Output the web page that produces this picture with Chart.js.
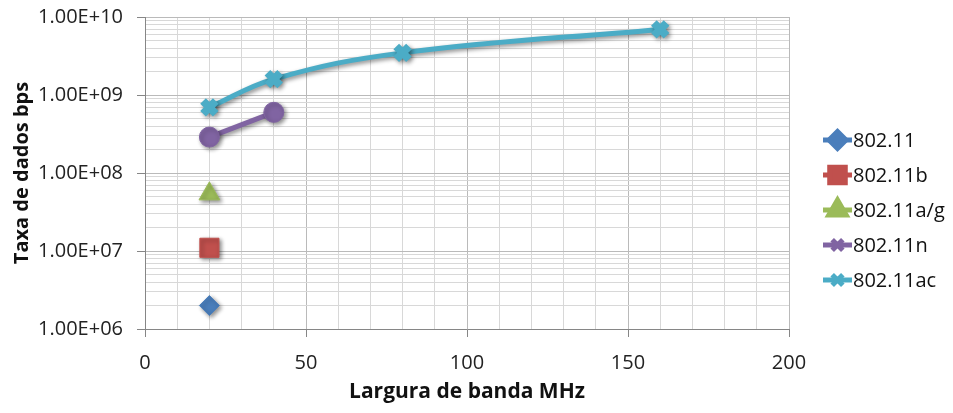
<!DOCTYPE html>
<html>
<head>
<meta charset="utf-8">
<script src="https://cdn.jsdelivr.net/npm/chart.js@4/dist/chart.umd.min.js"></script>
<style>
  html, body { margin: 0; padding: 0; background: #ffffff; }
  canvas { display: block; }
</style>
</head>
<body>
<canvas id="chart" width="953" height="413"></canvas>
<script>
// Wi-Fi standards: channel bandwidth (MHz) vs. maximum data rate (bps)
const seriesNames = ['802.11', '802.11b', '802.11a/g', '802.11n', '802.11ac'];

const bw_80211 = [20];
const rate_80211 = [2e6];

const bw_80211b = [20];
const rate_80211b = [1.1e7];

const bw_80211ag = [20];
const rate_80211ag = [5.4e7];

const bw_80211n = [20, 40];
const rate_80211n = [2.889e8, 6.0e8];

const bw_80211ac = [20, 40, 80, 160];
const rate_80211ac = [6.933e8, 1.6e9, 3.467e9, 6.933e9];

const xAxisLabels = [0, 50, 100, 150, 200];
const yDecades = [1e6, 1e7, 1e8, 1e9, 1e10];

const FONT = '"Open Sans", "Liberation Sans", sans-serif';
const colors = ['#4A7EBB', '#C0504D', '#9BBB59', '#8064A2', '#4BACC6'];

const toPoints = (xs, ys) => xs.map((x, i) => ({ x: x, y: ys[i] }));

const isDecade = v => Math.abs(Math.log10(v) - Math.round(Math.log10(v))) < 1e-9;
const fmtSci = v => {
  const e = Math.round(Math.log10(v));
  const m = v / Math.pow(10, e);
  return m.toFixed(2) + 'E+' + String(e).padStart(2, '0');
};

const datasets = [
  { label: seriesNames[0], data: toPoints(bw_80211, rate_80211), showLine: false,
    pointStyle: 'rectRot', pointRadius: 10, legendRadius: 8.5, legendBorder: 1 },
  { label: seriesNames[1], data: toPoints(bw_80211b, rate_80211b), showLine: false,
    pointStyle: 'rect', pointRadius: 13.5, legendRadius: 11, legendBorder: 1 },
  { label: seriesNames[2], data: toPoints(bw_80211ag, rate_80211ag), showLine: false,
    pointStyle: 'triangle', pointRadius: 12, legendRadius: 10, legendBorder: 1 },
  { label: seriesNames[3], data: toPoints(bw_80211n, rate_80211n), showLine: true, tension: 0,
    pointStyle: 'circle', pointRadius: 10, legendStyle: 'crossRot', legendRadius: 7.5, legendBorder: 7 },
  { label: seriesNames[4], data: toPoints(bw_80211ac, rate_80211ac), showLine: true, tension: 0.4,
    pointStyle: 'crossRot', pointRadius: 9, pointBorderWidth: 8, legendRadius: 7.5, legendBorder: 7 }
].map((d, i) => Object.assign({
  borderColor: colors[i],
  backgroundColor: colors[i],
  pointBackgroundColor: colors[i],
  pointBorderColor: colors[i],
  pointBorderWidth: 1,
  borderWidth: 5,
  pointHoverRadius: d.pointRadius
}, d));

// soft drop shadow under series marks
const shadowPlugin = {
  id: 'seriesShadow',
  beforeDatasetsDraw(chart) {
    const ctx = chart.ctx;
    ctx.save();
    ctx.shadowColor = 'rgba(0,0,0,0.45)';
    ctx.shadowBlur = 4;
    ctx.shadowOffsetX = 2;
    ctx.shadowOffsetY = 2;
  },
  afterDatasetsDraw(chart) {
    chart.ctx.restore();
  }
};

// legend on the right: a short line segment with the series marker, then the name
const lineLegendPlugin = {
  id: 'lineLegend',
  afterDraw(chart) {
    const ctx = chart.ctx;
    const area = chart.chartArea;
    const x0 = area.right + 34, x1 = x0 + 29, tx = x1 + 1;
    const gap = 35;
    const cy = chart.height / 2 + 3.5;
    const n = chart.data.datasets.length;
    chart.data.datasets.forEach((ds, i) => {
      const y = cy + (i - (n - 1) / 2) * gap;
      ctx.save();
      ctx.strokeStyle = ds.borderColor;
      ctx.fillStyle = ds.backgroundColor;
      ctx.lineWidth = 5;
      ctx.beginPath();
      ctx.moveTo(x0, y);
      ctx.lineTo(x1, y);
      ctx.stroke();
      Chart.helpers.drawPoint(ctx, {
        pointStyle: ds.legendStyle || ds.pointStyle,
        rotation: 0,
        radius: ds.legendRadius,
        borderWidth: ds.legendBorder
      }, (x0 + x1) / 2, y);
      ctx.fillStyle = '#111';
      ctx.font = '20px ' + FONT;
      ctx.textAlign = 'left';
      ctx.textBaseline = 'middle';
      ctx.fillText(ds.label, tx, y + 1);
      ctx.restore();
    });
  }
};

new Chart(document.getElementById('chart'), {
  type: 'scatter',
  data: { datasets: datasets },
  plugins: [shadowPlugin, lineLegendPlugin],
  options: {
    responsive: false,
    animation: false,
    devicePixelRatio: 1,
    layout: { padding: { top: 16, right: 164, left: 0, bottom: 0 } },
    plugins: {
      legend: { display: false },
      tooltip: { enabled: false }
    },
    scales: {
      x: {
        type: 'linear',
        min: xAxisLabels[0],
        max: xAxisLabels[xAxisLabels.length - 1],
        ticks: {
          stepSize: 10,
          autoSkip: false,
          maxRotation: 0,
          padding: 14,
          color: '#222',
          font: { family: FONT, size: 20 },
          callback: v => (xAxisLabels.includes(v) ? String(v) : '')
        },
        grid: {
          color: c => (c.tick && c.tick.value % 50 === 0 ? '#bababa' : '#d8d8d8'),
          tickColor: c => (c.tick && c.tick.value % 50 === 0 ? '#868686' : 'rgba(0,0,0,0)'),
          tickLength: 8,
          lineWidth: 1
        },
        border: { color: '#868686', width: 1 },
        title: {
          display: true,
          text: 'Largura de banda MHz',
          color: '#111',
          font: { family: FONT, size: 21, weight: 'bold' },
          padding: { top: 0, bottom: 8 }
        },
        afterFit: s => { s.height = 84; }
      },
      y: {
        type: 'logarithmic',
        min: yDecades[0],
        max: yDecades[yDecades.length - 1],
        afterBuildTicks: s => {
          const ticks = [];
          for (let d = 0; d < yDecades.length; d++) {
            const base = yDecades[d];
            const last = d === yDecades.length - 1 ? 1 : 9;
            for (let m = 1; m <= last; m++) ticks.push({ value: base * m });
          }
          s.ticks = ticks;
        },
        ticks: {
          autoSkip: false,
          padding: 14,
          color: '#222',
          font: { family: FONT, size: 20 },
          callback: v => (isDecade(v) ? fmtSci(v) : '')
        },
        grid: {
          color: c => (c.tick && isDecade(c.tick.value) ? '#bababa' : '#d8d8d8'),
          tickColor: c => (c.tick && isDecade(c.tick.value) ? '#868686' : 'rgba(0,0,0,0)'),
          tickLength: 8,
          lineWidth: 1
        },
        border: { color: '#868686', width: 1 },
        title: {
          display: true,
          text: 'Taxa de dados bps',
          color: '#111',
          font: { family: FONT, size: 20, weight: 'bold' },
          padding: { top: 10, bottom: 0 }
        },
        afterFit: s => {
          s.width = 145;
          s.paddingTop = 0;
          s.paddingBottom = 0;
        }
      }
    }
  }
});
</script>
</body>
</html>
